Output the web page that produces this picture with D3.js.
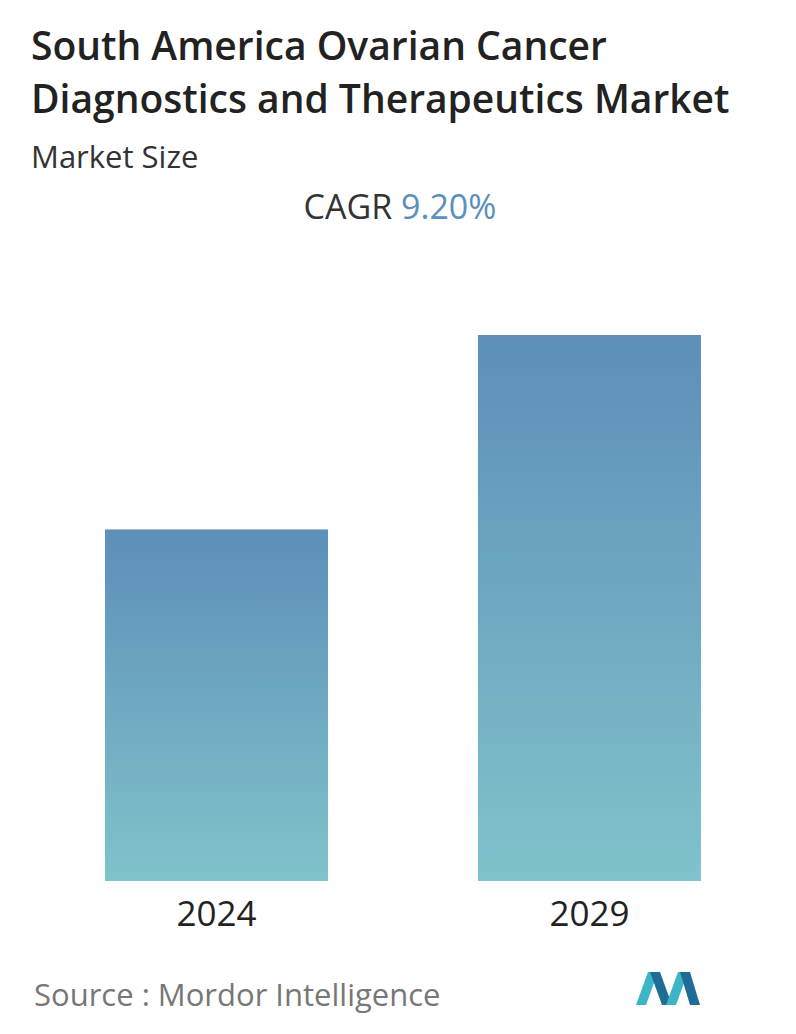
<!DOCTYPE html>
<html><head><meta charset="utf-8">
<script src="https://cdn.jsdelivr.net/npm/d3@7"></script>
<style>body{margin:0;background:#fff}</style></head>
<body><svg id="c" width="796" height="1034"></svg>
<script>
const categories = ["2024", "2029"];
const values = [1.0, 1.553];
const titleLines = ["South America Ovarian Cancer", "Diagnostics and Therapeutics Market"];

const svg = d3.select("#c");
const font = "'Open Sans', 'Noto Sans', sans-serif";
const defs = svg.append("defs");
const g = defs.append("linearGradient").attr("id","grad").attr("x1",0).attr("y1",0).attr("x2",0).attr("y2",1);
g.append("stop").attr("offset","0%").attr("stop-color","#5d8fb9");
g.append("stop").attr("offset","100%").attr("stop-color","#80c3ca");

titleLines.forEach((t,i)=>svg.append("text").attr("x",31).attr("y",60+i*53).attr("font-family",font)
  .attr("font-weight",600).attr("font-size",39).attr("fill","#222").text(t));
svg.append("text").attr("x",31).attr("y",168).attr("font-family",font).attr("font-size",31).attr("fill","#333").text("Market Size");
const cagr = svg.append("text").attr("x",400).attr("y",219).attr("text-anchor","middle").attr("font-family",font).attr("font-size",34);
cagr.append("tspan").attr("fill","#333").text("CAGR ");
cagr.append("tspan").attr("fill","#5b8fba").text("9.20%");

const x = d3.scaleBand().domain(categories).range([105,701]).paddingInner(0.402).paddingOuter(0);
const y = d3.scaleLinear().domain([0, d3.max(values)]).range([881,335]);
svg.selectAll("rect.bar").data(categories).enter().append("rect")
  .attr("x",d=>x(d)).attr("width",x.bandwidth())
  .attr("y",(d,i)=>y(values[i])).attr("height",(d,i)=>881-y(values[i]))
  .attr("fill","url(#grad)");
const ax = svg.append("g").attr("transform","translate(0,881)").call(d3.axisBottom(x).tickSize(0).tickPadding(20));
ax.select(".domain").remove();
ax.selectAll("text").attr("font-family",font).attr("font-size",35).attr("fill","#222");

svg.append("text").attr("x",34).attr("y",1006).attr("font-family",font).attr("font-size",31).attr("fill","#777").text("Source :  Mordor Intelligence");
const lg = svg.append("g").attr("transform","translate(636,972)");
lg.append("polygon").attr("points","0,33 12,0 22,0 10,33").attr("fill","#3cb6c7");
lg.append("polygon").attr("points","14,0 24,0 36,33 26,33").attr("fill","#1f6d96");
lg.append("polygon").attr("points","30,33 42,0 52,0 40,33").attr("fill","#3cb6c7");
lg.append("polygon").attr("points","44,0 54,0 64,33 54,33").attr("fill","#1f6d96");
</script></body></html>
